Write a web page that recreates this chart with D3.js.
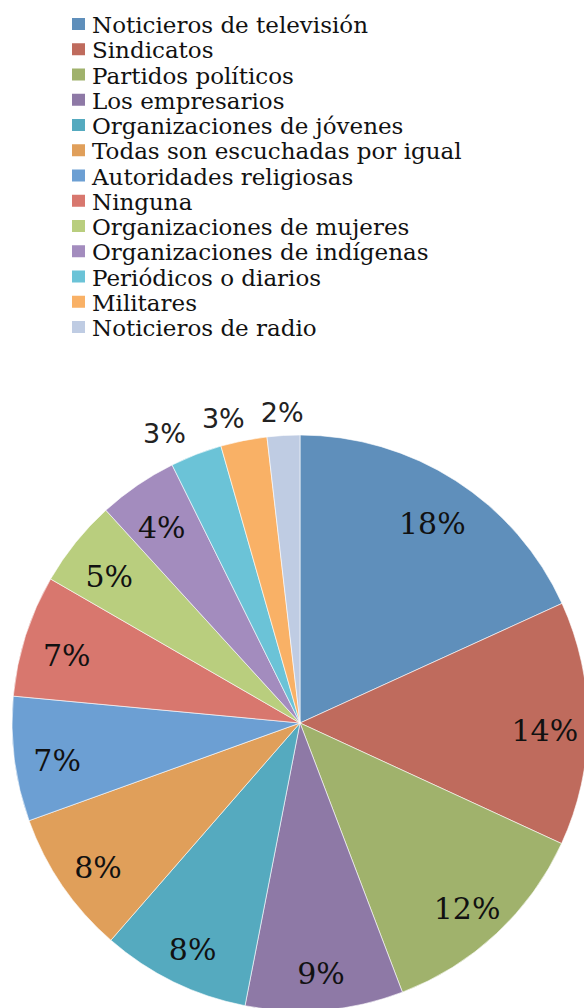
<!DOCTYPE html>
<html>
<head>
<meta charset="utf-8">
<script src="https://d3js.org/d3.v7.min.js"></script>
<style>
  body { margin: 0; background: #fff; }
  svg { display: block; }
</style>
</head>
<body>
<svg id="chart" width="584" height="1008"></svg>
<script>
// categories in legend / slice order
var categories = [
  "Noticieros de televisión",
  "Sindicatos",
  "Partidos políticos",
  "Los empresarios",
  "Organizaciones de jóvenes",
  "Todas son escuchadas por igual",
  "Autoridades religiosas",
  "Ninguna",
  "Organizaciones de mujeres",
  "Organizaciones de indígenas",
  "Periódicos o diarios",
  "Militares",
  "Noticieros de radio"
];
// share of each category, percent
var values = [18.2, 13.7, 12.35, 8.85, 8.35, 8.1, 7.0, 6.85, 4.9, 4.45, 2.9, 2.6, 1.83];
var colors = [
  "#5f8fbb", "#bf6b5d", "#a0b26c", "#8e79a6", "#55aabf", "#e09f5a",
  "#6c9fd3", "#d8776e", "#b9ce7e", "#a38cbe", "#6bc3d7", "#f9b166", "#bfcce3"
];
// slices whose label sits outside the pie
var outside = [false, false, false, false, false, false, false, false, false, false, true, true, true];

var svg = d3.select("#chart");
var cx = 300, cy = 723, r = 288;

var color = d3.scaleOrdinal().domain(categories).range(colors);
var data = categories.map(function (c, i) { return { name: c, value: values[i], out: outside[i] }; });

// legend
var legend = svg.append("g").attr("transform", "translate(72,18)");
var row = legend.selectAll("g").data(categories).enter().append("g")
  .attr("transform", function (d, i) { return "translate(0," + (i * 25.25) + ")"; });
row.append("rect").attr("width", 13).attr("height", 12).attr("fill", function (d) { return color(d); });
row.append("text")
  .attr("x", 20).attr("y", 15)
  .style("font-family", "'DejaVu Serif', serif")
  .style("font-size", "23px")
  .attr("fill", "#111")
  .text(function (d) { return d; });

// pie
var pie = d3.pie().sort(null).value(function (d) { return d.value; });
var arc = d3.arc().innerRadius(0).outerRadius(r);
var labelArc = d3.arc().innerRadius(r * 0.85).outerRadius(r * 0.85);
var outArc = d3.arc().innerRadius(r * 1.08).outerRadius(r * 1.08);

var g = svg.append("g").attr("transform", "translate(" + cx + "," + cy + ")");
var arcs = pie(data);

g.selectAll("path").data(arcs).enter().append("path")
  .attr("d", arc)
  .attr("fill", function (d) { return color(d.data.name); })
  .attr("stroke", "#fff")
  .attr("stroke-width", 0.6);

var inner = arcs.filter(function (d) { return !d.data.out; });
var outer = arcs.filter(function (d) { return d.data.out; });

g.selectAll("text.in").data(inner).enter().append("text")
  .attr("class", "in")
  .attr("transform", function (d) { return "translate(" + labelArc.centroid(d) + ")"; })
  .attr("text-anchor", "middle")
  .attr("dy", "0.57em")
  .style("font-family", "'DejaVu Serif', serif")
  .style("font-size", "30px")
  .attr("fill", "#111")
  .text(function (d) { return Math.round(d.data.value) + "%"; });

// outside labels: start at the centroid, then push left so they don't collide
var outText = g.selectAll("text.out").data(outer).enter().append("text")
  .attr("class", "out")
  .attr("text-anchor", "middle")
  .attr("dy", "0.36em")
  .style("font-family", "'DejaVu Sans', sans-serif")
  .style("font-size", "27px")
  .attr("fill", "#222")
  .text(function (d) { return Math.round(d.data.value) + "%"; });

var nodes = outText.nodes();
var limit = Infinity;
for (var i = nodes.length - 1; i >= 0; i--) {
  var d = outer[i];
  var p = outArc.centroid(d);
  var w = nodes[i].getComputedTextLength();
  var x = Math.min(p[0], limit - w / 2);
  d3.select(nodes[i]).attr("transform", "translate(" + x + "," + p[1] + ")");
  limit = x - w / 2 - 16;
}
</script>
</body>
</html>
